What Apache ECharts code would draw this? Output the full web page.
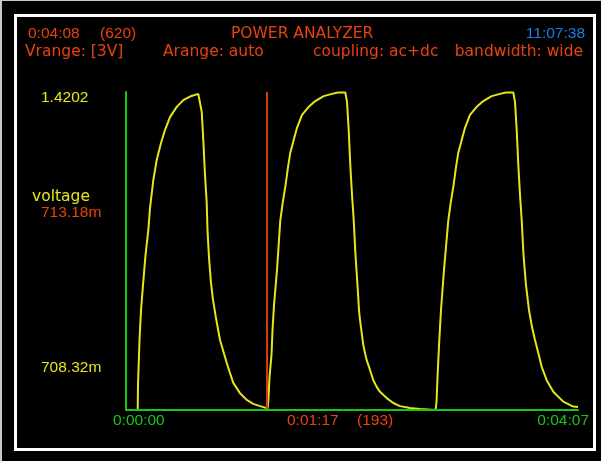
<!DOCTYPE html>
<html>
<head>
<meta charset="utf-8">
<title>Power analyzer</title>
<script src="https://cdn.jsdelivr.net/npm/echarts@6/dist/echarts.min.js"></script>
<style>
html, body { margin: 0; padding: 0; background: #000; }
#main { width: 601px; height: 461px; }
</style>
</head>
<body>
<div id="main"></div>
<script>
// trace, [seconds, volts]
var pulse1 = [
    [0, 0.7083], [6.39, 0.7083], [6.56, 0.764], [7.10, 0.831], [7.38, 0.865],
    [8.20, 0.932], [9.29, 0.988], [10.66, 1.055], [12.19, 1.111], [13.12, 1.160],
    [14.92, 1.223], [16.78, 1.268], [19.13, 1.306], [21.31, 1.335], [24.04, 1.364],
    [27.71, 1.387], [31.31, 1.402], [34.97, 1.410], [39.51, 1.416], [40.44, 1.418],
    [41.37, 1.376], [42.24, 1.313], [43.17, 1.234], [44.10, 1.172], [44.54, 1.111],
    [45.36, 1.049], [46.45, 0.993], [47.54, 0.955], [49.18, 0.914], [51.37, 0.865],
    [53.17, 0.840], [55.03, 0.814], [56.83, 0.791], [58.63, 0.769], [62.30, 0.746],
    [65.96, 0.731], [69.56, 0.722], [73.23, 0.717], [76.50, 0.713], [77.32, 0.7083]
];
var pulse2 = [
    [77.60, 0.7083], [77.87, 0.735], [78.42, 0.782], [79.51, 0.831], [80.06, 0.887],
    [80.88, 0.943], [82.52, 1.022], [84.32, 1.133], [85.63, 1.172], [87.05, 1.208],
    [88.53, 1.252], [89.78, 1.284], [91.64, 1.313], [93.44, 1.340], [96.18, 1.369],
    [99.84, 1.387], [103.45, 1.400], [108.03, 1.411], [112.57, 1.416], [115.85, 1.419],
    [119.84, 1.419], [120.77, 1.398], [121.70, 1.335], [122.57, 1.257], [123.50, 1.190],
    [124.43, 1.134], [125.41, 1.055], [126.51, 0.988], [127.33, 0.932], [127.87, 0.910],
    [128.80, 0.881], [129.67, 0.854], [130.60, 0.836], [131.53, 0.820], [133.34, 0.798],
    [135.14, 0.775], [137.00, 0.760], [138.80, 0.749], [142.46, 0.735], [146.07, 0.724],
    [149.73, 0.717], [155.19, 0.713], [160.66, 0.7106], [161.75, 0.7083], [169.13, 0.7083]
];
var pulse3 = [
    [169.40, 0.7083], [169.68, 0.726], [170.33, 0.791], [171.21, 0.865], [172.13, 0.932],
    [173.77, 1.022], [176.12, 1.133], [177.44, 1.172], [178.86, 1.208], [180.33, 1.252],
    [181.59, 1.284], [183.45, 1.313], [185.25, 1.340], [187.98, 1.369], [191.64, 1.387],
    [195.25, 1.400], [199.84, 1.411], [204.38, 1.416], [207.65, 1.419], [211.64, 1.419],
    [212.57, 1.398], [213.50, 1.335], [214.38, 1.257], [215.31, 1.190], [216.23, 1.134],
    [217.22, 1.055], [218.58, 0.988], [220.22, 0.932], [221.86, 0.894], [223.50, 0.865],
    [225.31, 0.836], [227.16, 0.805], [229.90, 0.775], [233.50, 0.749], [238.97, 0.727],
    [244.43, 0.716], [247, 0.715]
];
var timeRange = [0, 247];
var voltRange = [0.70832, 1.4202];
var cursorTime = 77;

var headerTop = ['0:04:08', '(620)', 'POWER ANALYZER', '11:07:38'];
var headerBottom = ['Vrange: [3V]', 'Arange: auto', 'coupling: ac+dc', 'bandwidth: wide'];
var voltLabels = ['1.4202', 'voltage', '713.18m', '708.32m'];
var timeLabels = ['0:00:00', '0:01:17', '(193)', '0:04:07'];

var ORANGE = '#e8420e', BLUE = '#1a7ee8', YELLOW = '#e6e619', GREEN = '#14c814';
var WORD = '"DejaVu Sans"', NUM = '"Liberation Sans"';

function txt(s, x, y, color, family, align) {
    return {
        type: 'text', x: x, y: y, silent: true, z: 10,
        style: {
            text: s, fill: color, font: '15.5px ' + family,
            align: align || 'left', verticalAlign: 'middle',
            textAlign: align || 'left', textVerticalAlign: 'middle'
        }
    };
}

var trace = pulse1.concat(pulse2, pulse3);

var myChart = echarts.init(document.getElementById('main'));
var option = {
    backgroundColor: '#000',
    animation: false,
    grid: { left: 126, right: 23, top: 92, bottom: 51 },
    xAxis: {
        type: 'value', min: timeRange[0], max: timeRange[1], z: 5,
        axisLine: { show: true, lineStyle: { color: GREEN, width: 2 } },
        axisTick: { show: false }, axisLabel: { show: false }, splitLine: { show: false }
    },
    yAxis: {
        type: 'value', min: voltRange[0], max: voltRange[1], z: 5,
        axisLine: { show: true, lineStyle: { color: GREEN, width: 2 } },
        axisTick: { show: false }, axisLabel: { show: false }, splitLine: { show: false }
    },
    series: [{
        type: 'line',
        data: trace,
        showSymbol: false,
        lineStyle: { color: YELLOW, width: 2 },
        markLine: {
            silent: true,
            symbol: ['none', 'none'],
            label: { show: false },
            lineStyle: { color: '#d23c0f', width: 2, type: 'solid' },
            data: [{ xAxis: cursorTime }]
        }
    }],
    graphic: [
        { type: 'rect', silent: true, shape: { x: 0, y: 0, width: 2, height: 461 }, style: { fill: '#c8c8c8' } },
        { type: 'rect', silent: true, shape: { x: 0, y: 0, width: 601, height: 1 }, style: { fill: '#c8c8c8' } },
        { type: 'rect', silent: true, shape: { x: 15.5, y: 15.5, width: 579, height: 434 }, style: { fill: 'none', stroke: '#fff', lineWidth: 3 } },
        txt(headerTop[0], 28, 34, ORANGE, NUM),
        txt(headerTop[1], 100, 34, ORANGE, NUM),
        txt(headerTop[2], 231, 34, ORANGE, WORD),
        txt(headerTop[3], 585, 34, BLUE, NUM, 'right'),
        txt(headerBottom[0], 25, 52, ORANGE, WORD),
        txt(headerBottom[1], 163, 52, ORANGE, WORD),
        txt(headerBottom[2], 313, 52, ORANGE, WORD),
        txt(headerBottom[3], 583, 52, ORANGE, WORD, 'right'),
        txt(voltLabels[0], 41, 98, YELLOW, NUM),
        txt(voltLabels[1], 32, 197, YELLOW, WORD),
        txt(voltLabels[2], 41, 213, ORANGE, NUM),
        txt(voltLabels[3], 41, 368, YELLOW, NUM),
        txt(timeLabels[0], 113, 421, GREEN, NUM),
        txt(timeLabels[1], 287, 421, ORANGE, NUM),
        txt(timeLabels[2], 357, 421, ORANGE, NUM),
        txt(timeLabels[3], 589, 421, GREEN, NUM, 'right')
    ]
};
myChart.setOption(option);
</script>
</body>
</html>
